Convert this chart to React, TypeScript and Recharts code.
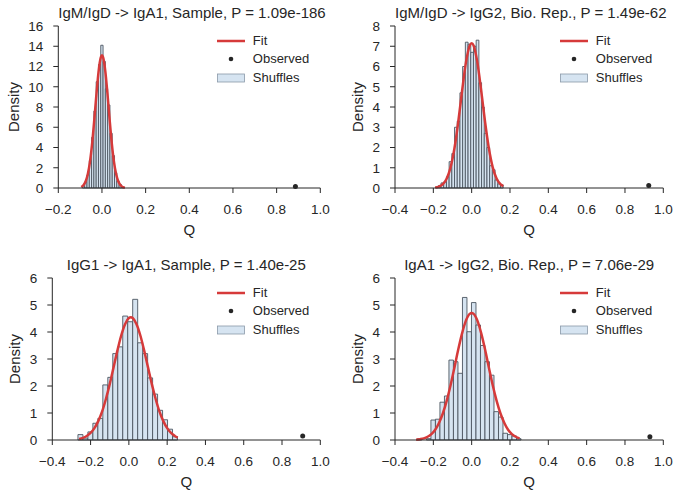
import React from "react";
import {
    ComposedChart,
    Line,
    Scatter,
    XAxis,
    YAxis,
    ReferenceArea,
} from "recharts";

const FONT = '"Liberation Sans", Arial, sans-serif';
const INK = "#262626";
const RED = "#d63a3a";
const BAR_FILL = "#d6e4f1";
const BAR_EDGE = "#4c5661";

// tick labels
const xTicksNarrow = [-0.2, 0, 0.2, 0.4, 0.6, 0.8, 1.0];
const xTicksWide = [-0.4, -0.2, 0, 0.2, 0.4, 0.6, 0.8, 1.0];
const yTicks16 = [0, 2, 4, 6, 8, 10, 12, 14, 16];
const yTicks8 = [0, 1, 2, 3, 4, 5, 6, 7, 8];
const yTicks6 = [0, 1, 2, 3, 4, 5, 6];

// IgM/IgD -> IgA1, Sample
const p1Edges = [-0.0895, -0.079, -0.0685, -0.058, -0.0475, -0.037, -0.0265, -0.016, -0.0055, 0.005, 0.0155, 0.026, 0.0365, 0.047, 0.0575, 0.068, 0.0785, 0.089, 0.0995];
const p1Density = [0.2, 0.6, 1.3, 2.7, 5.0, 7.6, 10.5, 12.2, 14.1, 12.5, 9.8, 8.2, 5.4, 3.2, 1.5, 0.7, 0.35, 0.1];
const p1FitQ = [-0.095, -0.085, -0.075, -0.065, -0.055, -0.045, -0.035, -0.025, -0.015, -0.005, 0, 0.005, 0.015, 0.025, 0.035, 0.045, 0.055, 0.065, 0.075, 0.085, 0.095, 0.105];
const p1FitD = [0.1, 0.27, 0.64, 1.35, 2.58, 4.41, 6.78, 9.36, 11.6, 12.93, 13.1, 12.93, 11.6, 9.36, 6.78, 4.41, 2.58, 1.35, 0.64, 0.27, 0.1, 0.03];
const p1Obs = [{ x: 0.886, y: 0.15 }];

// IgM/IgD -> IgG2, Bio. Rep.
const p2Edges = [-0.188, -0.1739, -0.1598, -0.1457, -0.1316, -0.1175, -0.1034, -0.0893, -0.0752, -0.0611, -0.047, -0.0329, -0.0188, -0.0047, 0.0094, 0.0235, 0.0376, 0.0517, 0.0658, 0.0799, 0.094, 0.1081, 0.1222, 0.1363, 0.1504, 0.1645];
const p2Density = [0.05, 0.12, 0.25, 0.3, 0.55, 1.3, 1.7, 3.0, 3.3, 4.7, 6.0, 7.2, 7.1, 6.7, 7.0, 7.3, 5.2, 4.0, 2.7, 2.0, 1.1, 0.9, 0.4, 0.2, 0.15];
const p2FitQ = [-0.19, -0.17, -0.15, -0.13, -0.11, -0.09, -0.07, -0.05, -0.03, -0.01, 0, 0.01, 0.03, 0.05, 0.07, 0.09, 0.11, 0.13, 0.15, 0.165];
const p2FitD = [0.02, 0.07, 0.19, 0.47, 1.02, 1.95, 3.26, 4.79, 6.19, 7.04, 7.15, 7.04, 6.19, 4.79, 3.26, 1.95, 1.02, 0.47, 0.19, 0.09];
const p2Obs = [{ x: 0.924, y: 0.12 }];

// IgG1 -> IgA1, Sample
const p3Edges = [-0.266, -0.24, -0.214, -0.188, -0.162, -0.136, -0.11, -0.084, -0.058, -0.032, -0.006, 0.02, 0.046, 0.072, 0.098, 0.124, 0.15, 0.176, 0.202, 0.228, 0.254];
const p3Density = [0.2, 0.07, 0.3, 0.62, 0.8, 2.04, 2.32, 3.2, 3.45, 4.59, 4.38, 5.21, 3.6, 3.2, 2.3, 1.7, 1.1, 0.75, 0.4, 0.12];
const p3FitQ = [-0.26, -0.24, -0.22, -0.2, -0.18, -0.16, -0.14, -0.12, -0.1, -0.08, -0.06, -0.04, -0.02, 0, 0.01, 0.02, 0.04, 0.06, 0.08, 0.1, 0.12, 0.14, 0.16, 0.18, 0.2, 0.22, 0.24, 0.255];
const p3FitD = [0.04, 0.08, 0.15, 0.26, 0.44, 0.7, 1.05, 1.52, 2.07, 2.69, 3.31, 3.87, 4.29, 4.52, 4.55, 4.52, 4.29, 3.87, 3.31, 2.69, 2.07, 1.52, 1.05, 0.7, 0.44, 0.26, 0.15, 0.09];
const p3Obs = [{ x: 0.908, y: 0.15 }];

// IgA1 -> IgG2, Bio. Rep.
const p4Edges = [-0.283, -0.2595, -0.236, -0.2125, -0.189, -0.1655, -0.142, -0.1185, -0.095, -0.0715, -0.048, -0.0245, -0.001, 0.0225, 0.046, 0.0695, 0.093, 0.1165, 0.14, 0.1635, 0.187, 0.2105, 0.234, 0.2575];
const p4Density = [0.05, 0, 0.05, 0.74, 0.77, 1.4, 1.63, 2.96, 2.9, 2.47, 5.28, 4.01, 5.09, 4.26, 3.5, 2.9, 2.4, 1.05, 0.85, 0.25, 0.2, 0.15, 0.05];
const p4FitQ = [-0.29, -0.27, -0.25, -0.23, -0.21, -0.19, -0.17, -0.15, -0.13, -0.11, -0.09, -0.07, -0.05, -0.03, -0.01, 0, 0.01, 0.03, 0.05, 0.07, 0.09, 0.11, 0.13, 0.15, 0.17, 0.19, 0.21, 0.23, 0.25];
const p4FitD = [0.01, 0.03, 0.06, 0.12, 0.22, 0.38, 0.64, 0.99, 1.46, 2.03, 2.68, 3.35, 3.95, 4.42, 4.67, 4.7, 4.67, 4.42, 3.95, 3.35, 2.68, 2.03, 1.46, 0.99, 0.64, 0.38, 0.22, 0.12, 0.06];
const p4Obs = [{ x: 0.93, y: 0.12 }];

const W = 340;
const H = 250;

const fmtX = (v: number) => v.toFixed(1).replace("-", "\u2212");

function Panel(props: any) {
    const {
        left, top, title, edges, density, fitQ, fitD, obs,
        xTicks, yTicks, yWidth, marginRight, labelX,
    } = props;
    const fit = fitQ.map((q: number, i: number) => ({ x: q, y: fitD[i] }));
    const plotRight = W - marginRight;
    const plotW = plotRight - yWidth;

    return (
        <div style={{ position: "absolute", left, top, width: W, height: H }}>
            <div
                style={{
                    position: "absolute",
                    left: yWidth,
                    top: 4,
                    width: plotW,
                    textAlign: "center",
                    fontSize: 15,
                    lineHeight: "18px",
                    color: INK,
                    whiteSpace: "nowrap",
                }}
            >
                {title}
            </div>

            <ComposedChart
                width={W}
                height={H}
                margin={{ top: 26, right: marginRight, bottom: 0, left: 0 }}
            >
                <XAxis
                    dataKey="x"
                    type="number"
                    domain={[xTicks[0], 1.0]}
                    ticks={xTicks}
                    interval={0}
                    tickFormatter={fmtX}
                    height={62}
                    tickSize={5}
                    tickMargin={11}
                    stroke={INK}
                    tick={{ fill: INK, fontSize: 13.5 }}
                    label={{ value: "Q", position: "insideBottom", offset: 15, fill: INK, fontSize: 15 }}
                />
                <YAxis
                    type="number"
                    domain={[yTicks[0], yTicks[yTicks.length - 1]]}
                    ticks={yTicks}
                    interval={0}
                    width={yWidth}
                    tickSize={5}
                    tickMargin={10}
                    stroke={INK}
                    tick={{ fill: INK, fontSize: 13.5 }}
                    label={{
                        value: "Density",
                        angle: -90,
                        position: "insideLeft",
                        offset: labelX,
                        fill: INK,
                        fontSize: 15,
                        style: { textAnchor: "middle" },
                    }}
                />

                {density.map((d: number, i: number) =>
                    d > 0 ? (
                        <ReferenceArea
                            key={i}
                            x1={edges[i]}
                            x2={edges[i + 1]}
                            y1={0}
                            y2={d}
                            fill={BAR_FILL}
                            fillOpacity={1}
                            stroke={BAR_EDGE}
                            strokeWidth={0.9}
                            ifOverflow="visible"
                        />
                    ) : null
                )}

                <Line
                    data={fit}
                    dataKey="y"
                    type="monotone"
                    stroke={RED}
                    strokeWidth={2.5}
                    dot={false}
                    activeDot={false}
                    isAnimationActive={false}
                />
                <Scatter
                    data={obs}
                    dataKey="y"
                    fill={INK}
                    isAnimationActive={false}
                    shape={(p: any) => <circle cx={p.cx} cy={p.cy} r={2.5} fill={INK} />}
                />
            </ComposedChart>

            <div
                style={{
                    position: "absolute",
                    left: plotRight - 103.5,
                    top: 31.5,
                    fontSize: 13,
                    color: INK,
                    lineHeight: "18.5px",
                }}
            >
                <div style={{ display: "flex", alignItems: "center", height: 18.5 }}>
                    <svg width={28} height={18}>
                        <line x1={0} x2={28} y1={9} y2={9} stroke={RED} strokeWidth={2.5} />
                    </svg>
                    <span style={{ marginLeft: 8 }}>Fit</span>
                </div>
                <div style={{ display: "flex", alignItems: "center", height: 18.5 }}>
                    <svg width={28} height={18}>
                        <circle cx={14} cy={9} r={2.3} fill={INK} />
                    </svg>
                    <span style={{ marginLeft: 8 }}>Observed</span>
                </div>
                <div style={{ display: "flex", alignItems: "center", height: 18.5 }}>
                    <svg width={28} height={18}>
                        <rect x={0.5} y={5} width={27} height={8} fill={BAR_FILL} stroke="#8a98a8" strokeWidth={0.8} />
                    </svg>
                    <span style={{ marginLeft: 8 }}>Shuffles</span>
                </div>
            </div>
        </div>
    );
}

export default function App() {
    return (
        <div
            style={{
                position: "absolute",
                left: 0,
                top: 0,
                width: 680,
                height: 497,
                background: "#fff",
                fontFamily: FONT,
            }}
        >
            <Panel
                left={0}
                top={0}
                title="IgM/IgD -> IgA1, Sample, P = 1.09e-186"
                edges={p1Edges}
                density={p1Density}
                fitQ={p1FitQ}
                fitD={p1FitD}
                obs={p1Obs}
                xTicks={xTicksNarrow}
                yTicks={yTicks16}
                yWidth={58.3}
                marginRight={19.7}
                labelX={14}
            />
            <Panel
                left={340}
                top={0}
                title="IgM/IgD -> IgG2, Bio. Rep., P = 1.49e-62"
                edges={p2Edges}
                density={p2Density}
                fitQ={p2FitQ}
                fitD={p2FitD}
                obs={p2Obs}
                xTicks={xTicksWide}
                yTicks={yTicks8}
                yWidth={55}
                marginRight={16.7}
                labelX={17.5}
            />
            <Panel
                left={0}
                top={252}
                title="IgG1 -> IgA1, Sample, P = 1.40e-25"
                edges={p3Edges}
                density={p3Density}
                fitQ={p3FitQ}
                fitD={p3FitD}
                obs={p3Obs}
                xTicks={xTicksWide}
                yTicks={yTicks6}
                yWidth={52.3}
                marginRight={19.7}
                labelX={14.5}
            />
            <Panel
                left={340}
                top={252}
                title="IgA1 -> IgG2, Bio. Rep., P = 7.06e-29"
                edges={p4Edges}
                density={p4Density}
                fitQ={p4FitQ}
                fitD={p4FitD}
                obs={p4Obs}
                xTicks={xTicksWide}
                yTicks={yTicks6}
                yWidth={55}
                marginRight={16.7}
                labelX={17.5}
            />
        </div>
    );
}
